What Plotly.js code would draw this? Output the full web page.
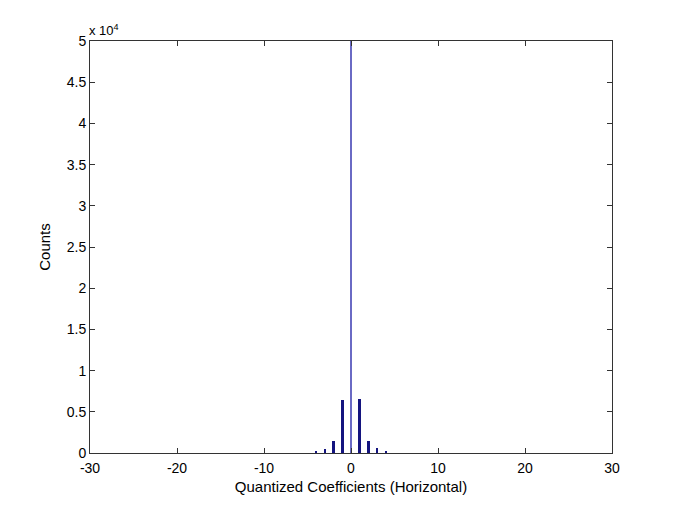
<!DOCTYPE html>
<html>
<head>
<meta charset="utf-8">
<script src="https://cdn.plot.ly/plotly-3.0.1.min.js"></script>
<style>html,body{margin:0;padding:0;background:#fff;}#chart{width:677px;height:508px;}</style>
</head>
<body>
<div id="chart"></div>
<script>
// Quantized coefficient values (bin centers)
var coefficients = [-4, -3, -2, -1, 0, 1, 2, 3, 4];
// Counts per bin (center bin exceeds the visible axis range)
var counts = [230, 450, 1460, 6430, 120000, 6550, 1460, 570, 240];
// Y tick values (counts) and their labels (in units of 10^4)
var yTickVals = [0, 5000, 10000, 15000, 20000, 25000, 30000, 35000, 40000, 45000, 50000];
var yTickText = ['0', '0.5', '1', '1.5', '2', '2.5', '3', '3.5', '4', '4.5', '5'];
// X tick values and labels
var xTickVals = [-30, -20, -10, 0, 10, 20, 30];
var xTickText = ['-30', '-20', '-10', '0', '10', '20', '30'];

var barColors = coefficients.map(function (c) { return c === 0 ? '#6a6ac4' : '#14147f'; });

var trace = {
  type: 'bar',
  x: coefficients,
  y: counts,
  width: 0.28,
  marker: { color: barColors, line: { width: 0 } },
  hoverinfo: 'x+y'
};

var fam = 'Liberation Sans, Arial, sans-serif';
var tickFont = { family: fam, size: 14, color: '#000' };
var titleFont = { family: fam, size: 15, color: '#000' };

var layout = {
  width: 677,
  height: 508,
  margin: { l: 90, r: 65, t: 41, b: 55 },
  paper_bgcolor: '#ffffff',
  plot_bgcolor: '#ffffff',
  showlegend: false,
  bargap: 0,
  font: tickFont,
  xaxis: {
    range: [-30, 30],
    tickvals: xTickVals,
    ticktext: xTickText,
    ticks: 'inside',
    ticklen: 5,
    tickcolor: '#333',
    ticklabelstandoff: 2,
    showgrid: false,
    zeroline: false,
    showline: true,
    linecolor: '#333',
    linewidth: 1,
    mirror: 'allticks',
    tickfont: tickFont,
    title: { text: 'Quantized Coefficients (Horizontal)', font: titleFont, standoff: 6 }
  },
  yaxis: {
    range: [0, 50000],
    tickvals: yTickVals,
    ticktext: yTickText,
    ticks: 'inside',
    ticklen: 5,
    tickcolor: '#333',
    showgrid: false,
    zeroline: false,
    showline: true,
    linecolor: '#333',
    linewidth: 1,
    mirror: 'allticks',
    tickfont: tickFont,
    title: { text: 'Counts', font: titleFont, standoff: 12 }
  },
  annotations: [{
    text: 'x 10<sup>4</sup>',
    xref: 'paper', yref: 'paper',
    x: 0, y: 1,
    xanchor: 'left', yanchor: 'bottom',
    xshift: -3, yshift: 1,
    showarrow: false,
    font: { family: fam, size: 13, color: '#000' }
  }]
};

Plotly.newPlot('chart', [trace], layout, { displayModeBar: false, staticPlot: true });
</script>
</body>
</html>
